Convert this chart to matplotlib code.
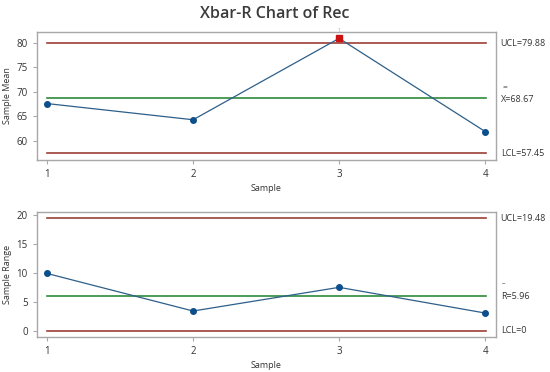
import numpy as np
import matplotlib.pyplot as plt

# Xbar-R chart data
samples = [1, 2, 3, 4]
means = [67.6, 64.3, 80.9, 61.9]
ranges = [9.9, 3.4, 7.5, 3.05]

xbar_ucl, xbar_cl, xbar_lcl = 79.88, 68.67, 57.45
r_ucl, r_cl, r_lcl = 19.48, 5.96, 0.0

limit_col = "#9c3f36"
center_col = "#2f8a3b"
line_col = "#2d5f8a"
dot_col = "#0d4f8c"
frame_col = "#a8a8a8"
text_col = "#333333"

plt.rcParams['font.family'] = ['Open Sans', 'DejaVu Sans']

fig = plt.figure(figsize=(5.5, 3.72), dpi=100)
fig.text(0.5, 0.962, "Xbar-R Chart of Rec", ha="center", va="center",
         fontsize=11.5, fontweight="semibold", color="#3a3a3a")

ax1 = fig.add_axes([0.067, 0.570, 0.835, 0.344])
ax2 = fig.add_axes([0.067, 0.095, 0.835, 0.336])


def style(ax, ylabel):
    for s in ax.spines.values():
        s.set_color(frame_col)
        s.set_linewidth(1.0)
    ax.tick_params(colors=frame_col, labelcolor=text_col, labelsize=7, length=3)
    ax.set_xticks(samples)
    ax.set_xlim(0.93, 4.075)
    ax.set_xlabel("Sample", fontsize=6.5, color=text_col, labelpad=3)
    ax.set_ylabel(ylabel, fontsize=6.5, color=text_col, labelpad=3)


# Xbar chart
ax1.axhline(xbar_ucl, xmin=0.022, xmax=0.978, color=limit_col, lw=1.2)
ax1.axhline(xbar_lcl, xmin=0.022, xmax=0.978, color=limit_col, lw=1.2)
ax1.axhline(xbar_cl, xmin=0.022, xmax=0.978, color=center_col, lw=1.2)
ax1.plot(samples, means, color=line_col, lw=0.9)
ok = [i for i in range(4) if xbar_lcl <= means[i] <= xbar_ucl]
bad = [i for i in range(4) if i not in ok]
ax1.plot([samples[i] for i in ok], [means[i] for i in ok], "o",
         color=dot_col, ms=4)
ax1.plot([samples[i] for i in bad], [means[i] for i in bad], "s",
         color="#cc1111", ms=4)
for i in bad:
    ax1.text(samples[i], means[i] + 1.0, "1", ha="center", va="bottom",
             fontsize=4, color="#aaaaaa")
ax1.set_ylim(56.1, 82.2)
ax1.set_yticks([60, 65, 70, 75, 80])
style(ax1, "Sample Mean")

ax1.text(1.01, xbar_ucl, "UCL=79.88", transform=ax1.get_yaxis_transform(),
         fontsize=6.5, color=text_col, va="center")
ax1.text(1.01, xbar_cl - 0.2, "X=68.67", transform=ax1.get_yaxis_transform(),
         fontsize=6.5, color=text_col, va="center")
ax1.text(1.013, xbar_cl + 2.2, "=", transform=ax1.get_yaxis_transform(),
         fontsize=6, color=text_col, va="center")
ax1.text(1.01, xbar_lcl, "LCL=57.45", transform=ax1.get_yaxis_transform(),
         fontsize=6.5, color=text_col, va="center")

# R chart
ax2.axhline(r_ucl, xmin=0.022, xmax=0.978, color=limit_col, lw=1.2)
ax2.axhline(r_lcl, xmin=0.022, xmax=0.978, color=limit_col, lw=1.2)
ax2.axhline(r_cl, xmin=0.022, xmax=0.978, color=center_col, lw=1.2)
ax2.plot(samples, ranges, color=line_col, lw=0.9)
ax2.plot(samples, ranges, "o", color=dot_col, ms=4)
ax2.set_ylim(-1.04, 20.6)
ax2.set_yticks([0, 5, 10, 15, 20])
style(ax2, "Sample Range")

ax2.text(1.01, r_ucl, "UCL=19.48", transform=ax2.get_yaxis_transform(),
         fontsize=6.5, color=text_col, va="center")
ax2.text(1.01, r_cl, "R=5.96", transform=ax2.get_yaxis_transform(),
         fontsize=6.5, color=text_col, va="center")
ax2.text(1.012, r_cl + 2.2, "\u2013", transform=ax2.get_yaxis_transform(),
         fontsize=5, color=text_col, va="center")
ax2.text(1.01, r_lcl, "LCL=0", transform=ax2.get_yaxis_transform(),
         fontsize=6.5, color=text_col, va="center")

fig.savefig("out.png", dpi=100)
